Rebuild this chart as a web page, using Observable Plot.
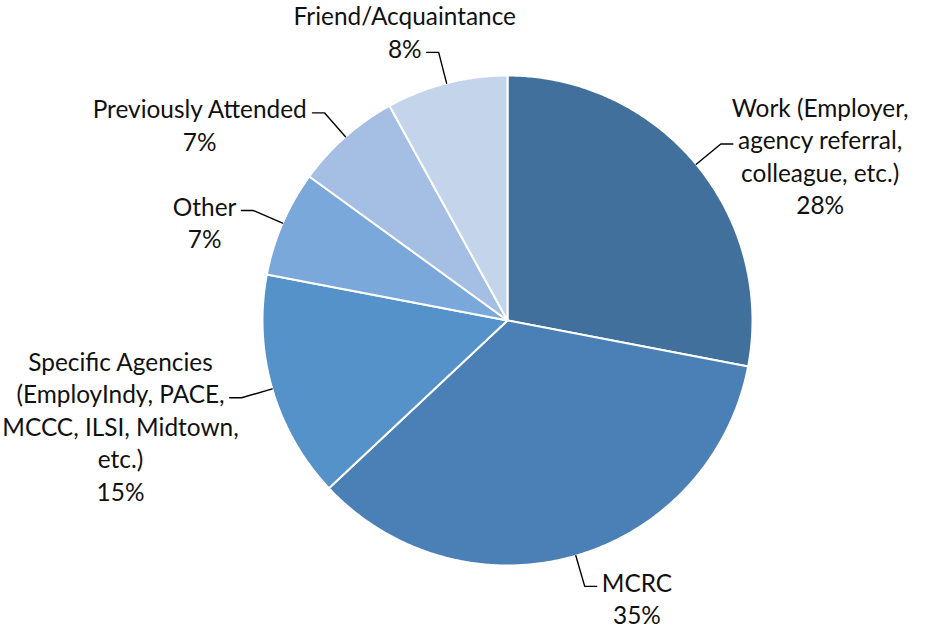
<!DOCTYPE html>
<html>
<head>
<meta charset="utf-8">
<script src="https://cdn.jsdelivr.net/npm/d3@7"></script>
<script src="https://cdn.jsdelivr.net/npm/@observablehq/plot@0.6"></script>
<style>
  html, body { margin: 0; padding: 0; background: #fff; }
  #chart { width: 932px; height: 628px; }
</style>
</head>
<body>
<div id="chart"></div>
<script>
// ---- data ----
const categories = [
  "Work (Employer,\nagency referral,\ncolleague, etc.)",
  "MCRC",
  "Specific Agencies\n(EmployIndy, PACE,\nMCCC, ILSI, Midtown,\netc.)",
  "Other",
  "Previously Attended",
  "Friend/Acquaintance"
];
const values = [28, 35, 15, 7, 7, 8];
const colors = ["#42709c", "#4a80b5", "#5592ca", "#7ba8da", "#a4bfe3", "#c4d4eb"];

// ---- layout ----
const W = 932, H = 628, CX = 507, CY = 320, R = 245;
const FONT = "Lato";
const FS = 24.4;
const LH = 32.5;

const ctx = document.createElement("canvas").getContext("2d");
ctx.font = `${FS}px ${FONT}`;
const measure = s => ctx.measureText(s).width;

const arcs = d3.pie().sort(null).value(d => d)(values);

const slicePts = [];
arcs.forEach((a, i) => {
  const name = categories[i];
  slicePts.push({name, x: 0, y: 0});
  const n = Math.max(2, Math.ceil((a.endAngle - a.startAngle) / (Math.PI / 360)));
  for (let k = 0; k <= n; k++) {
    const t = a.startAngle + (a.endAngle - a.startAngle) * k / n;
    slicePts.push({name, x: R * Math.sin(t), y: -R * Math.cos(t)});
  }
  slicePts.push({name, x: 0, y: 0});
});

const leaderPts = [];
const labels = [];
arcs.forEach((a, i) => {
  const mid = (a.startAngle + a.endAngle) / 2;
  const s = Math.sin(mid), c = Math.cos(mid);
  const side = s >= 0 ? 1 : -1;
  const edge = {x: R * s, y: -R * c};
  const elbow = {x: 1.13 * R * s, y: -1.13 * R * c};
  const tail = {x: elbow.x + side * 12, y: elbow.y};
  leaderPts.push({k: i, ...edge}, {k: i, ...elbow}, {k: i, ...tail});
  const text = categories[i] + "\n" + values[i] + "%";
  const lines = text.split("\n");
  const n = lines.length;
  let at;
  if (c > 0.9) at = n - 1; else if (c < -0.9) at = 0; else at = Math.floor((n - 1) / 3);
  const w = measure(lines[at]);
  const lineCenter = tail.y - 5;
  labels.push({
    text,
    x: tail.x + side * (5 + w / 2),
    y: lineCenter + ((n - 1) / 2 - at) * LH
  });
});

const chart = Plot.plot({
  width: W, height: H, margin: 0,
  style: {fontFamily: FONT, background: "#fff"},
  x: {domain: [-CX, W - CX], range: [0, W], axis: null},
  y: {domain: [-CY, H - CY], range: [0, H], axis: null},
  color: {domain: categories, range: colors},
  marks: [
    Plot.line(slicePts, {x: "x", y: "y", z: "name", fill: "name", stroke: "#fff", strokeWidth: 2, curve: "linear", strokeLinejoin: "round"}),
    Plot.line(leaderPts, {x: "x", y: "y", z: "k", stroke: "#000", strokeWidth: 1.4}),
    Plot.text(labels, {x: "x", y: "y", text: "text", textAnchor: "middle", lineAnchor: "middle",
      fontSize: FS, lineHeight: LH / FS, fill: "#111"})
  ]
});
document.getElementById("chart").appendChild(chart);
</script>
</body>
</html>
